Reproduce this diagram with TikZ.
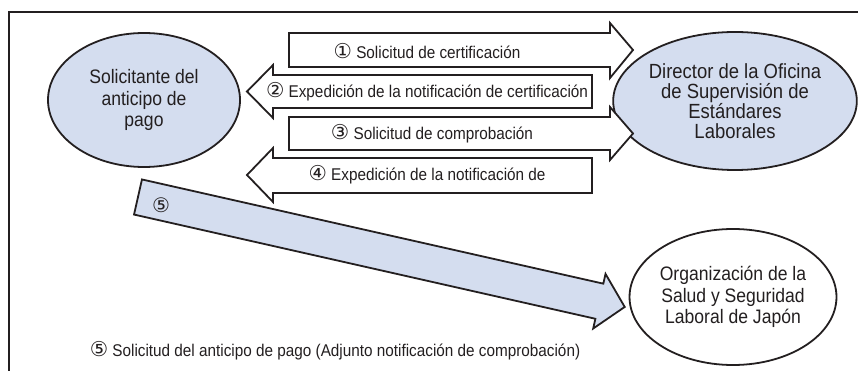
\documentclass[tikz,border=0pt]{standalone}
\usepackage{fontspec}
\setmainfont{Liberation Sans}[FakeStretch=0.9]
\newfontfamily\dv{DejaVu Sans}
\usetikzlibrary{shapes.geometric}
\definecolor{lb}{HTML}{D4DDEF}
\definecolor{ink}{HTML}{231F20}
\newcommand{\cnum}[1]{{\dv\fontsize{20.5}{20}\selectfont #1}}
\begin{document}
\begin{tikzpicture}[x=1pt,y=-1pt,
  ln/.style={draw=ink, line width=1.8pt, line join=miter},
  ell/.style={ellipse, ln, inner sep=0pt, align=center, font=\fontsize{19.5}{21.5}\selectfont, text=ink},
  lbl/.style={font=\fontsize{17}{18}\selectfont, text=ink, inner sep=0pt},
  num/.style={font=\dv\fontsize{20}{20}\selectfont, text=ink, inner sep=0pt}]
\useasboundingbox (0,0) rectangle (858,371);
% frame
\coordinate (fbl) at (9,371);
\coordinate (ftl) at (9,12);
\coordinate (ftr) at (858,12);
\draw[ln] (fbl) -- (ftl) -- (ftr);
% ellipses
\node[ell, fill=lb, minimum width=192pt, minimum height=134pt] (app) at (144,100)
  {Solicitante del\\anticipo de\\pago};
\node[ell, fill=lb, minimum width=186pt, minimum height=138pt, font=\fontsize{20.5}{20}\selectfont] (dir) at (735,101)
  {Director de la Oficina\\de Supervisi\'on de\\Est\'andares\\Laborales};
\node[ell, fill=white, minimum width=189pt, minimum height=136pt] (org) at (733,297)
  {Organizaci\'on de la\\Salud y Seguridad\\Laboral de Jap\'on};
% block arrows
\draw[ln, fill=white] (289,33) -- (610,33) -- (610,23) -- (633,50) -- (610,78) -- (610,67) -- (289,67) -- cycle;
\draw[ln, fill=white] (592,75) -- (273,75) -- (273,65) -- (247,91.5) -- (273,118) -- (273,108) -- (592,108) -- cycle;
\draw[ln, fill=white] (289,117) -- (610,117) -- (610,107) -- (633,133.5) -- (610,160) -- (610,150) -- (289,150) -- cycle;
\draw[ln, fill=white] (592,158) -- (273,158) -- (273,148) -- (247,175) -- (273,202) -- (273,193) -- (592,193) -- cycle;
\begin{scope}[shift={(138,197)}, rotate=-12.73]
\draw[ln, fill=lb] (0,-18) -- (473,-18) -- (473,-28) -- (499,0) -- (473,28) -- (473,18) -- (0,18) -- cycle;
\end{scope}
% labels
\node[lbl] (l1) at (427,51) {\cnum{①} Solicitud de certificaci\'on};
\node[lbl] (l2) at (427,92) {\cnum{②} Expedici\'on de la notificaci\'on de certificaci\'on};
\node[lbl] (l3) at (432,134) {\cnum{③} Solicitud de comprobaci\'on};
\node[lbl] (l4) at (427,175) {\cnum{④} Expedici\'on de la notificaci\'on de};
\node[num] (l5) at (161,205) {⑤};
\node[lbl] (l6) at (335,351) {\cnum{⑤} Solicitud del anticipo de pago (Adjunto notificaci\'on de comprobaci\'on)};
\end{tikzpicture}
\end{document}
